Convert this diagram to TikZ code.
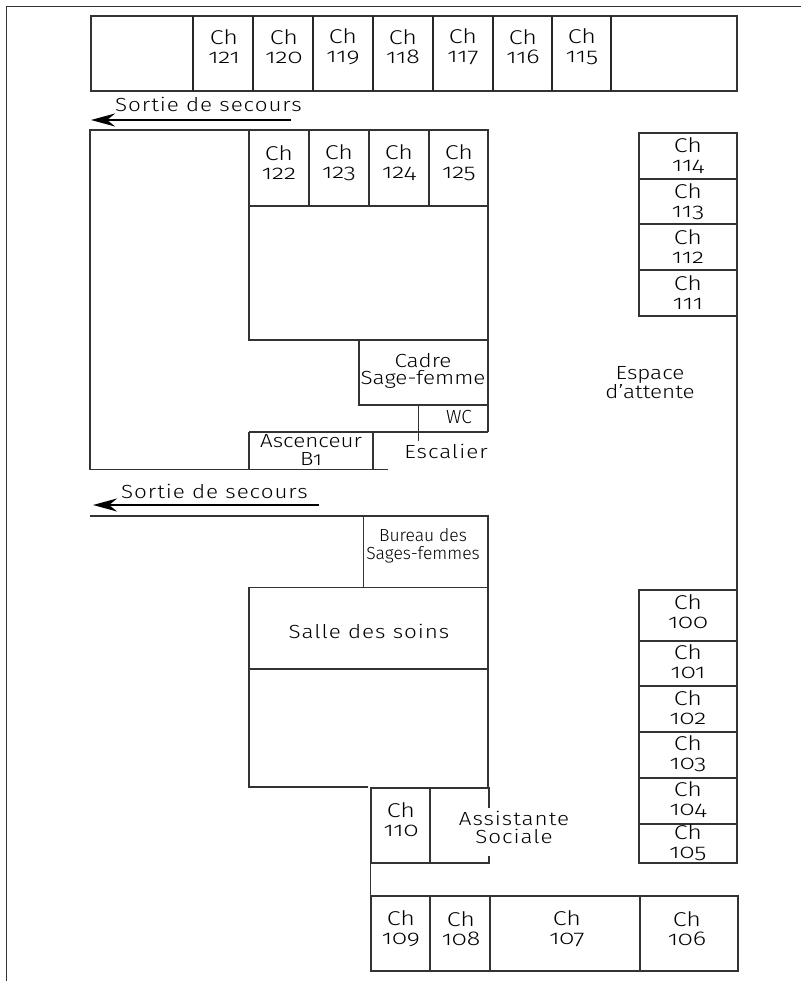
\documentclass[tikz,border=0pt]{standalone}
\usepackage{fontspec}
\setmainfont[Numbers=OldStyle,FakeStretch=1.18,LetterSpace=5]{Fira Sans Light}
\newfontfamily\narrowf[Numbers=OldStyle]{Fira Sans Light}
\newfontfamily\tightf[Numbers=OldStyle,FakeStretch=1.18]{Fira Sans Light}
\newfontfamily\roomf[Numbers=OldStyle,FakeStretch=1.25]{Fira Sans Light}
\usetikzlibrary{arrows.meta}
\tikzset{
 wall/.style={draw=black!80,line width=1.1pt},
 thickwall/.style={draw=black!85,line width=1.6pt},
 lab/.style={font=\fontsize{19}{18}\selectfont,align=center,inner sep=0pt},
 tightlab/.style={font=\tightf\fontsize{19}{17.5}\selectfont,align=center,inner sep=0pt},
 roomlab/.style={font=\roomf\fontsize{20}{19}\selectfont,align=center,inner sep=0pt},
 exitarrow/.style={line width=2.4pt,-{Stealth[length=24pt,width=13pt]}},
}
\begin{document}
\begin{tikzpicture}[x=1pt,y=-1pt]
\useasboundingbox (0,0) rectangle (801,981);
\draw[wall] (6.7,981) -- (6.7,6.5) -- (801,6.5);
% top row
\draw[wall] (91,16) rectangle (737,91);
\foreach \x in {193,253,313,373,433,493,552,611} \draw[thickwall] (\x,16) -- (\x,91);
\foreach \x/\n in {224/121,284/120,343/119,403/118,463/117,523/116,582/115}
  \node[roomlab] (t\n) at (\x,46.5) {Ch\\\n};
% exit arrow 1
\node[lab,anchor=base west] (s1) at (115,112) {Sortie de secours};
\coordinate (a1s) at (291,120); \coordinate (a1e) at (91,120);
\draw[exitarrow] (a1s) -- (a1e);
% block 1
\draw[wall] (249,130) -- (90,130) -- (90,469.5) -- (388,469.5);
\draw[wall] (249,130) rectangle (488,206);
\foreach \x in {309,369,429} \draw[wall] (\x,130) -- (\x,206);
\foreach \x/\n in {279/122,339/123,399/124,459/125}
  \node[roomlab] (u\n) at (\x,162.5) {Ch\\\n};
\draw[wall] (249,206) -- (249,340) -- (488,340);
\draw[wall] (488,206) -- (488,432);
\draw[wall] (359,340) -- (359,405) -- (488,405);
\node[tightlab] (cadre) at (423,371) {Cadre\\Sage-femme};
\draw[wall] (418.5,405) -- (418.5,441);
\draw[wall] (249,432) -- (488,432);
\node[lab,font=\narrowf\fontsize{19}{17}\selectfont] (wc) at (459,417) {WC};
\node[lab] (esc) at (446,451) {Escalier};
\draw[wall] (249,432) -- (249,469.5);
\draw[wall] (373,432) -- (373,469.5);
\node[tightlab] (asc) at (311,450) {Ascenceur\\B1};
% exit arrow 2
\node[lab,anchor=base west] (s2) at (121,498) {Sortie de secours};
\coordinate (a2s) at (319,505); \coordinate (a2e) at (93,505);
\draw[exitarrow] (a2s) -- (a2e);
% block 2
\draw[wall] (90,516) -- (488,516) -- (488,587);
\draw[wall] (363.5,516) -- (363.5,587);
\node[lab,font=\narrowf\fontsize{17.5}{18}\selectfont] (bur) at (423,546) {Bureau des\\Sages-femmes};
\draw[wall] (249,587.5) rectangle (488,669);
\node[lab] (soins) at (369,631) {Salle des soins};
\draw[wall] (368,787) -- (249,787) -- (249,669);
\draw[wall] (488,669) -- (488,788);
% assistante
\draw[wall] (371,788) rectangle (430,863);
\draw[wall] (430,788) -- (489,788) -- (489,808);
\draw[wall] (430,863) -- (489,863) -- (489,856);
\node[roomlab] (c110) at (401,820) {Ch\\110};
\node[lab] (as) at (514,827) {Assistante\\Sociale};
\draw[wall] (370.5,863) -- (370.5,896);
% bottom row
\draw[wall] (371,896) rectangle (738,971);
\foreach \x in {430,490,640} \draw[wall] (\x,896) -- (\x,971);
\foreach \x/\n in {401/109,461/108,567/107,687/106}
  \node[roomlab] (b\n) at (\x,928.5) {Ch\\\n};
% right upper column
\draw[wall] (639,133) rectangle (737,316);
\foreach \y in {179,224,270} \draw[wall] (639,\y) -- (737,\y);
\foreach \y/\n in {156/114,202/113,247/112,293/111}
  \node[roomlab] (r\n) at (688,\y) {Ch\\\n};
\node[tightlab] (att) at (650,383) {Espace\\d’attente};
\draw[wall] (737,316) -- (737,590);
% right lower column
\draw[wall] (639,590) rectangle (737,863);
\foreach \y in {641,686,732,778,824} \draw[wall] (639,\y) -- (737,\y);
\foreach \y/\n in {612/100,662/101,708/102,754/103,800/104,843/105}
  \node[roomlab] (l\n) at (688,\y) {Ch\\\n};
\end{tikzpicture}
\end{document}
